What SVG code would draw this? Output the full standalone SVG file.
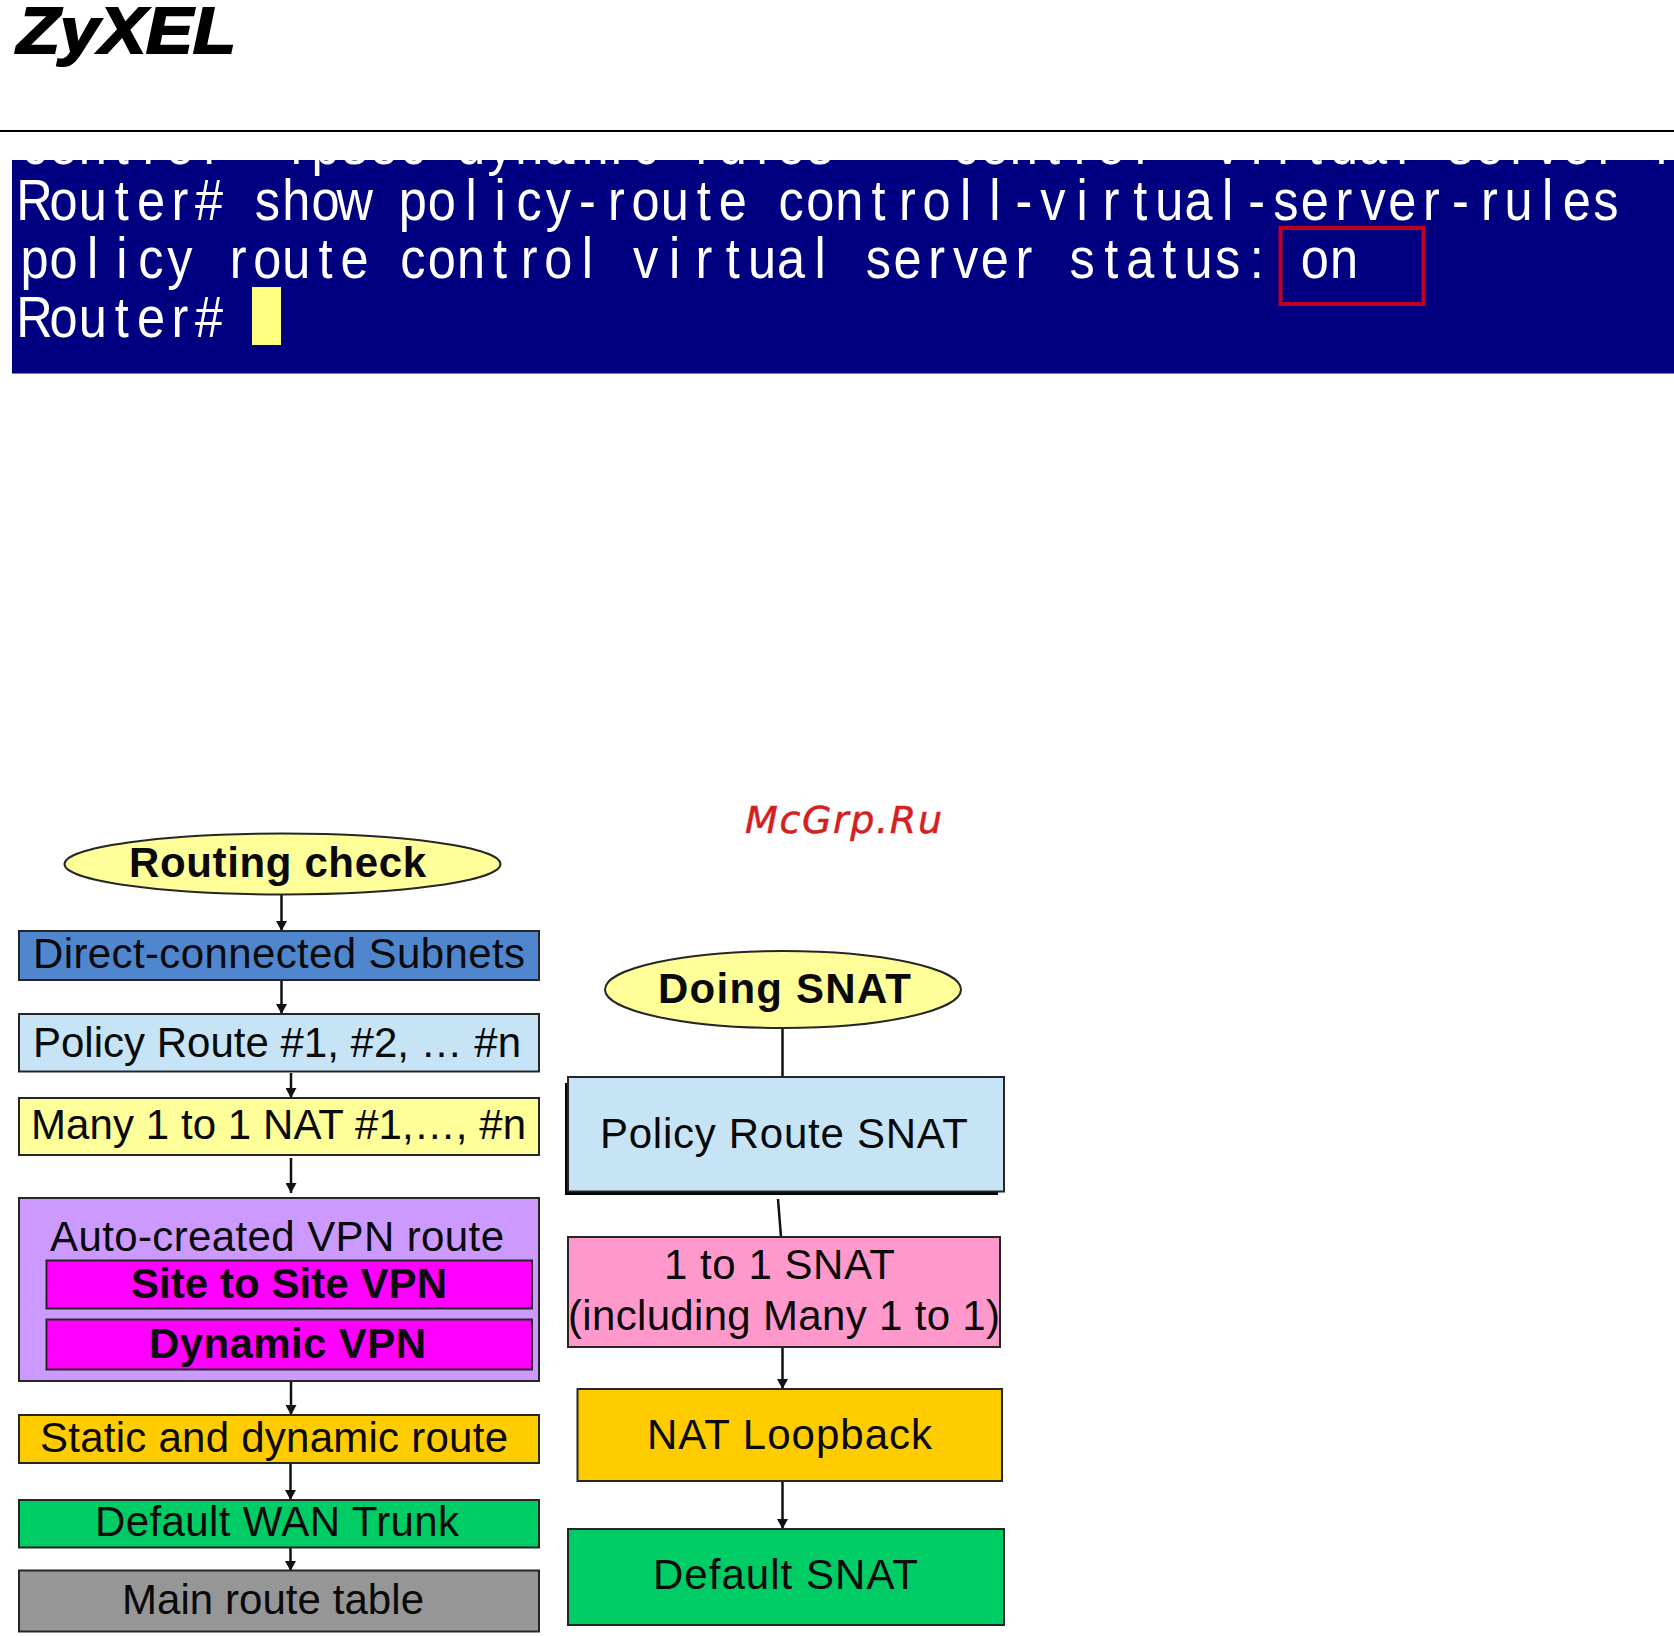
<svg xmlns="http://www.w3.org/2000/svg" width="1674" height="1636" viewBox="0 0 1674 1636">
<style>
.b{stroke:#262626;stroke-width:2}
.t{font-family:"Liberation Sans",Arial,sans-serif;font-size:42px;fill:#0a0a0a}
.tb{font-weight:700}
.m{font-family:"Liberation Sans",Arial,sans-serif;font-size:58px;fill:#fff;text-anchor:middle;white-space:pre}
.c{stroke:#111;stroke-width:2.5;fill:none}
.a{marker-end:url(#ah)}
</style>
<defs>
<marker id="ah" markerUnits="userSpaceOnUse" markerWidth="12" markerHeight="11" refX="10" refY="5.500" orient="auto"><path d="M0 0L10 5.500L0 11Z" fill="#111"/></marker>
<clipPath id="term"><rect x="12" y="160" width="1662" height="214"/></clipPath>
</defs>
<rect width="1674" height="1636" fill="#fff"/>
<g id="header">
<text x="17" y="53" font-family="'Liberation Sans',Arial,sans-serif" font-size="64" font-weight="700" font-style="italic" stroke="#000" stroke-width="2" textLength="219" lengthAdjust="spacingAndGlyphs">ZyXEL</text>
<rect x="0" y="130" width="1674" height="2" fill="#000"/>
</g>
<g id="terminal" clip-path="url(#term)">
<rect x="12" y="160" width="1662" height="214" fill="#000080"/>
<rect x="12" y="373" width="1662" height="1" fill="#7c7cc8"/>
<text class="m" transform="scale(.87 1)" y="164" xml:space="preserve" x="39.7 73.1 106.6 140 173.5 206.9 240.3 273.8 307.2 340.7 374.1 407.6 441 474.5 507.9 541.4 574.8 608.3 641.7 675.2 708.6 742.1 775.5 809 842.4 875.9 909.3 942.8 976.2 1009.7 1043.1 1076.6 1110 1143.4 1176.9 1210.3 1243.8 1277.2 1310.7 1344.1 1377.6 1411 1444.5 1477.9 1511.4 1544.8 1578.3 1611.7 1645.2 1678.6 1712.1 1745.5 1779 1812.4 1845.9 1879.3 1912.8">control  ipsec dynamic rules    control  virtual server r</text>
<text class="m" transform="scale(.87 1)" y="220" x="39.7 73.1 106.6 140 173.5 206.9 240.3 273.8 307.2 340.7 374.1 407.6 441 474.5 507.9 541.4 574.8 608.3 641.7 675.2 708.6 742.1 775.5 809 842.4 875.9 909.3 942.8 976.2 1009.7 1043.1 1076.6 1110 1143.4 1176.9 1210.3 1243.8 1277.2 1310.7 1344.1 1377.6 1411 1444.5 1477.9 1511.4 1544.8 1578.3 1611.7 1645.2 1678.6 1712.1 1745.5 1779 1812.4 1845.9">Router# show policy-route controll-virtual-server-rules</text>
<text class="m" transform="scale(.87 1)" y="278" x="39.7 73.1 106.6 140 173.5 206.9 240.3 273.8 307.2 340.7 374.1 407.6 441 474.5 507.9 541.4 574.8 608.3 641.7 675.2 708.6 742.1 775.5 809 842.4 875.9 909.3 942.8 976.2 1009.7 1043.1 1076.6 1110 1143.4 1176.9 1210.3 1243.8 1277.2 1310.7 1344.1 1377.6 1411 1444.5 1477.9 1511.4 1544.8">policy route control virtual server status: on</text>
<text class="m" transform="scale(.87 1)" y="337" x="39.7 73.1 106.6 140 173.5 206.9 240.3">Router#</text>
<rect x="252" y="287" width="29" height="58" fill="#ffff80"/>
<rect x="1280.500" y="228" width="143" height="76" fill="none" stroke="#c00020" stroke-width="4"/>
</g>
<text id="watermark" x="745" y="833" font-family="'DejaVu Sans',sans-serif" font-size="38" font-style="italic" fill="#d42020" stroke="#d42020" stroke-width=".5" textLength="197" lengthAdjust="spacing">McGrp.Ru</text>
<g id="connectors">
<path class="c a" d="M281.500 895V931"/>
<path class="c a" d="M281.500 980V1014"/>
<path class="c a" d="M291 1073V1098"/>
<path class="c a" d="M291 1158V1193"/>
<path class="c a" d="M291 1381V1415"/>
<path class="c a" d="M290.500 1463V1500"/>
<path class="c a" d="M290.500 1547V1571"/>
<path class="c" d="M782.500 1029V1077"/>
<path class="c" d="M778 1199L781 1237"/>
<path class="c a" d="M782.500 1347V1389"/>
<path class="c a" d="M782.500 1481V1529"/>
</g>
<g id="routing-check"><ellipse class="b" cx="282.500" cy="864" rx="218" ry="30.500" fill="#ffff99"/><text class="t tb" x="129" y="877" textLength="297">Routing check</text></g>
<g id="direct-connected"><rect class="b" x="19" y="931" width="520" height="49" fill="#4f86ce"/><text class="t" x="33" y="968" textLength="492">Direct-connected Subnets</text></g>
<g id="policy-route"><rect class="b" x="19" y="1014" width="520" height="57.500" fill="#c6e4f6"/><text class="t" x="33" y="1057" textLength="488">Policy Route #1, #2, … #n</text></g>
<g id="many-nat"><rect class="b" x="19" y="1098" width="520" height="57" fill="#ffff99"/><text class="t" x="31" y="1139" textLength="495">Many 1 to 1 NAT #1,…, #n</text></g>
<g id="vpn-route"><rect class="b" x="19" y="1198" width="520" height="183" fill="#cc99ff"/><text class="t" x="50" y="1251" textLength="454">Auto-created VPN route</text></g>
<g id="site-to-site"><rect class="b" x="46.500" y="1260.500" width="485.500" height="48" fill="#ff00ff"/><text class="t tb" x="131" y="1298" textLength="316">Site to Site VPN</text></g>
<g id="dynamic-vpn"><rect class="b" x="46.500" y="1319.500" width="485.500" height="50" fill="#ff00ff"/><text class="t tb" x="149" y="1358" textLength="277">Dynamic VPN</text></g>
<g id="static-route"><rect class="b" x="19" y="1415" width="520" height="48" fill="#ffcc00"/><text class="t" x="40" y="1452" textLength="468">Static and dynamic route</text></g>
<g id="default-wan"><rect class="b" x="19" y="1500" width="520" height="47.500" fill="#00cc66"/><text class="t" x="95" y="1536" textLength="364">Default WAN Trunk</text></g>
<g id="main-route"><rect class="b" x="19" y="1570.500" width="520" height="61" fill="#969696"/><text class="t" x="122" y="1614" textLength="302">Main route table</text></g>
<g id="doing-snat"><ellipse class="b" cx="783" cy="989.500" rx="178" ry="38.500" fill="#ffff99"/><text class="t tb" x="658" y="1003" textLength="253">Doing SNAT</text></g>
<g id="policy-snat"><rect x="565" y="1083" width="433" height="112" fill="#000"/><rect class="b" x="568" y="1077" width="436" height="114.500" fill="#c6e4f6"/><text class="t" x="600" y="1148" textLength="368">Policy Route SNAT</text></g>
<g id="one-to-one"><rect class="b" x="568" y="1237" width="432" height="110" fill="#ff99cc"/><text class="t" x="664" y="1279" textLength="231">1 to 1 SNAT</text><text class="t" x="568" y="1330" textLength="432">(including Many 1 to 1)</text></g>
<g id="nat-loopback"><rect class="b" x="577.500" y="1389" width="424.500" height="92" fill="#ffcc00"/><text class="t" x="647" y="1449" textLength="285">NAT Loopback</text></g>
<g id="default-snat"><rect class="b" x="568" y="1529" width="436" height="96" fill="#00cc66"/><text class="t" x="653" y="1589" textLength="265">Default SNAT</text></g>
</svg>
